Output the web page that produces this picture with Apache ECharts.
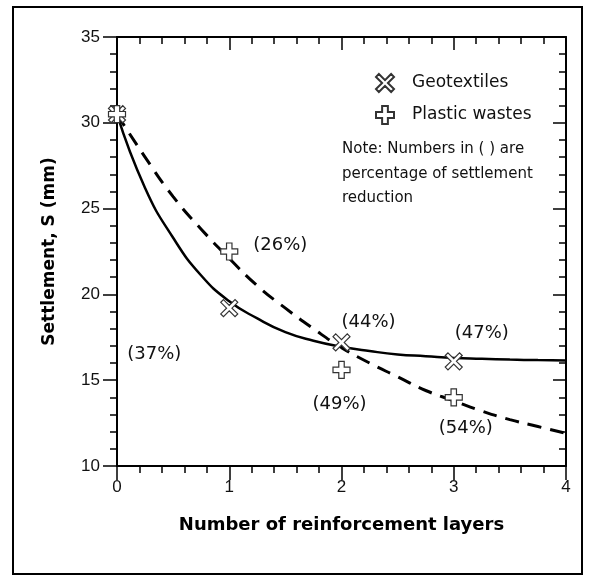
<!DOCTYPE html>
<html>
<head>
<meta charset="utf-8">
<script src="https://cdn.jsdelivr.net/npm/echarts@6/dist/echarts.min.js"></script>
<style>
  html, body { margin: 0; padding: 0; background: #fff; }
  #chart { width: 595px; height: 580px; }
</style>
</head>
<body>
<div id="chart"></div>
<script>
// measured points
const layers = [0, 1, 2, 3];
const geoSettlement = [30.5, 19.2, 17.2, 16.1];
const plasticSettlement = [30.5, 22.5, 15.6, 14.0];
const geoReduction = ['', '(37%)', '(44%)', '(47%)'];
const plasticReduction = ['', '(26%)', '(49%)', '(54%)'];

// fitted curves
const curveX = [0, 0.25, 0.5, 0.75, 1, 1.25, 1.5, 1.75, 2, 2.25, 2.5, 2.75, 3, 3.25, 3.5, 3.75, 4];
const geoCurve = [30.5, 26.2, 23.3, 21.1, 19.6, 18.6, 17.8, 17.3, 16.95, 16.7, 16.5, 16.4, 16.3, 16.25, 16.2, 16.17, 16.15];
const plasticCurve = [30.5, 28.0, 25.7, 23.8, 22.1, 20.5, 19.2, 18.0, 16.9, 16.0, 15.2, 14.4, 13.8, 13.2, 12.7, 12.3, 11.9];

const xTicks = [0, 1, 2, 3, 4];
const yTicks = [10, 15, 20, 25, 30, 35];

const FONT = 'Liberation Sans, Arial, sans-serif';
const WIDE = 'DejaVu Sans, sans-serif';
const X_MARK = 'path://M1.6,0 L5,3.4 L8.4,0 L10,1.6 L6.6,5 L10,8.4 L8.4,10 L5,6.6 L1.6,10 L0,8.4 L3.4,5 L0,1.6 Z';
const PLUS_MARK = 'path://M3.4,0 L6.6,0 L6.6,3.4 L10,3.4 L10,6.6 L6.6,6.6 L6.6,10 L3.4,10 L3.4,6.6 L0,6.6 L0,3.4 L3.4,3.4 Z';

let chart = echarts.init(document.getElementById('chart'));

function pairs(xs, ys) {
  return xs.map((x, i) => [x, ys[i]]);
}

function markPoints(ys, texts, offsets) {
  return layers.map((x, i) => ({
    value: [x, ys[i]],
    label: {
      show: texts[i] !== '',
      formatter: texts[i],
      position: 'inside',
      offset: offsets[i],
      fontFamily: WIDE,
      fontSize: 18,
      color: '#111',
      textBorderWidth: 0
    }
  }));
}

function axisBase(inside, showLabel) {
  return {
    type: 'value',
    axisLine: { show: true, onZero: false, lineStyle: { color: '#000', width: 2 } },
    axisTick: { show: true, inside: inside, length: inside ? 13 : 14, lineStyle: { color: '#000', width: 1.5 } },
    minorTick: { show: true, splitNumber: 5, length: 7, lineStyle: { color: '#000', width: 1.5 } },
    splitLine: { show: false },
    axisLabel: { show: showLabel, fontFamily: FONT, fontSize: 17, color: '#111' }
  };
}

let xBottom = Object.assign(axisBase(false, true), {
  position: 'bottom', min: xTicks[0], max: xTicks[xTicks.length - 1], interval: 1,
  name: 'Number of reinforcement layers', nameLocation: 'middle', nameGap: 50,
  nameTextStyle: { fontFamily: WIDE, fontSize: 18, fontWeight: 'bold', color: '#000' }
});
xBottom.axisLabel.margin = 13;
let xTop = Object.assign(axisBase(true, false), {
  position: 'top', min: xTicks[0], max: xTicks[xTicks.length - 1], interval: 1
});
let yLeft = Object.assign(axisBase(false, true), {
  position: 'left', min: yTicks[0], max: yTicks[yTicks.length - 1], interval: 5,
  name: 'Settlement, S (mm)', nameLocation: 'middle', nameGap: 59, nameRotate: 90,
  nameTextStyle: { fontFamily: WIDE, fontSize: 17, fontWeight: 'bold', color: '#000' }
});
yLeft.axisLabel.margin = 17;
let yRight = Object.assign(axisBase(true, false), {
  position: 'right', min: yTicks[0], max: yTicks[yTicks.length - 1], interval: 5
});

let option = {
  backgroundColor: '#fff',
  animation: false,
  grid: { left: 117, top: 37, right: 29, bottom: 114 },
  xAxis: [xBottom, xTop],
  yAxis: [yLeft, yRight],
  legend: {
    orient: 'vertical',
    left: 370,
    top: 68,
    itemWidth: 18,
    itemHeight: 18,
    itemGap: 12,
    data: ['Geotextiles', 'Plastic wastes'],
    textStyle: { fontFamily: WIDE, fontSize: 17, color: '#111', padding: [0, 0, 0, 13] }
  },
  graphic: [
    {
      type: 'rect',
      shape: { x: 13, y: 7, width: 569, height: 567 },
      style: { fill: 'none', stroke: '#000', lineWidth: 2 },
      silent: true
    },
    {
      type: 'text',
      left: 342,
      top: 137,
      style: {
        text: 'Note: Numbers in ( ) are\npercentage of settlement\nreduction',
        font: '15px ' + WIDE,
        lineHeight: 24.5,
        fill: '#111'
      }
    }
  ],
  series: [
    {
      name: 'geoFit',
      type: 'line',
      data: pairs(curveX, geoCurve),
      smooth: true,
      showSymbol: false,
      lineStyle: { color: '#000', width: 2.5 },
      z: 2
    },
    {
      name: 'plasticFit',
      type: 'line',
      data: pairs(curveX, plasticCurve),
      smooth: true,
      showSymbol: false,
      lineStyle: { color: '#000', width: 3, type: [14, 9] },
      z: 2
    },
    {
      name: 'Geotextiles',
      type: 'scatter',
      symbol: X_MARK,
      symbolSize: 17,
      itemStyle: { color: '#fff', borderColor: '#333', borderWidth: 1.2, opacity: 1 },
      data: markPoints(geoSettlement, geoReduction, [[0, 0], [-75, 46], [27, -20], [28, -28]]),
      z: 3
    },
    {
      name: 'Plastic wastes',
      type: 'scatter',
      symbol: PLUS_MARK,
      symbolSize: 17,
      itemStyle: { color: '#fff', borderColor: '#333', borderWidth: 1.2, opacity: 1 },
      data: markPoints(plasticSettlement, plasticReduction, [[0, 0], [51, -6], [-2, 34], [12, 31]]),
      z: 3
    }
  ]
};

chart.setOption(option);
</script>
</body>
</html>
